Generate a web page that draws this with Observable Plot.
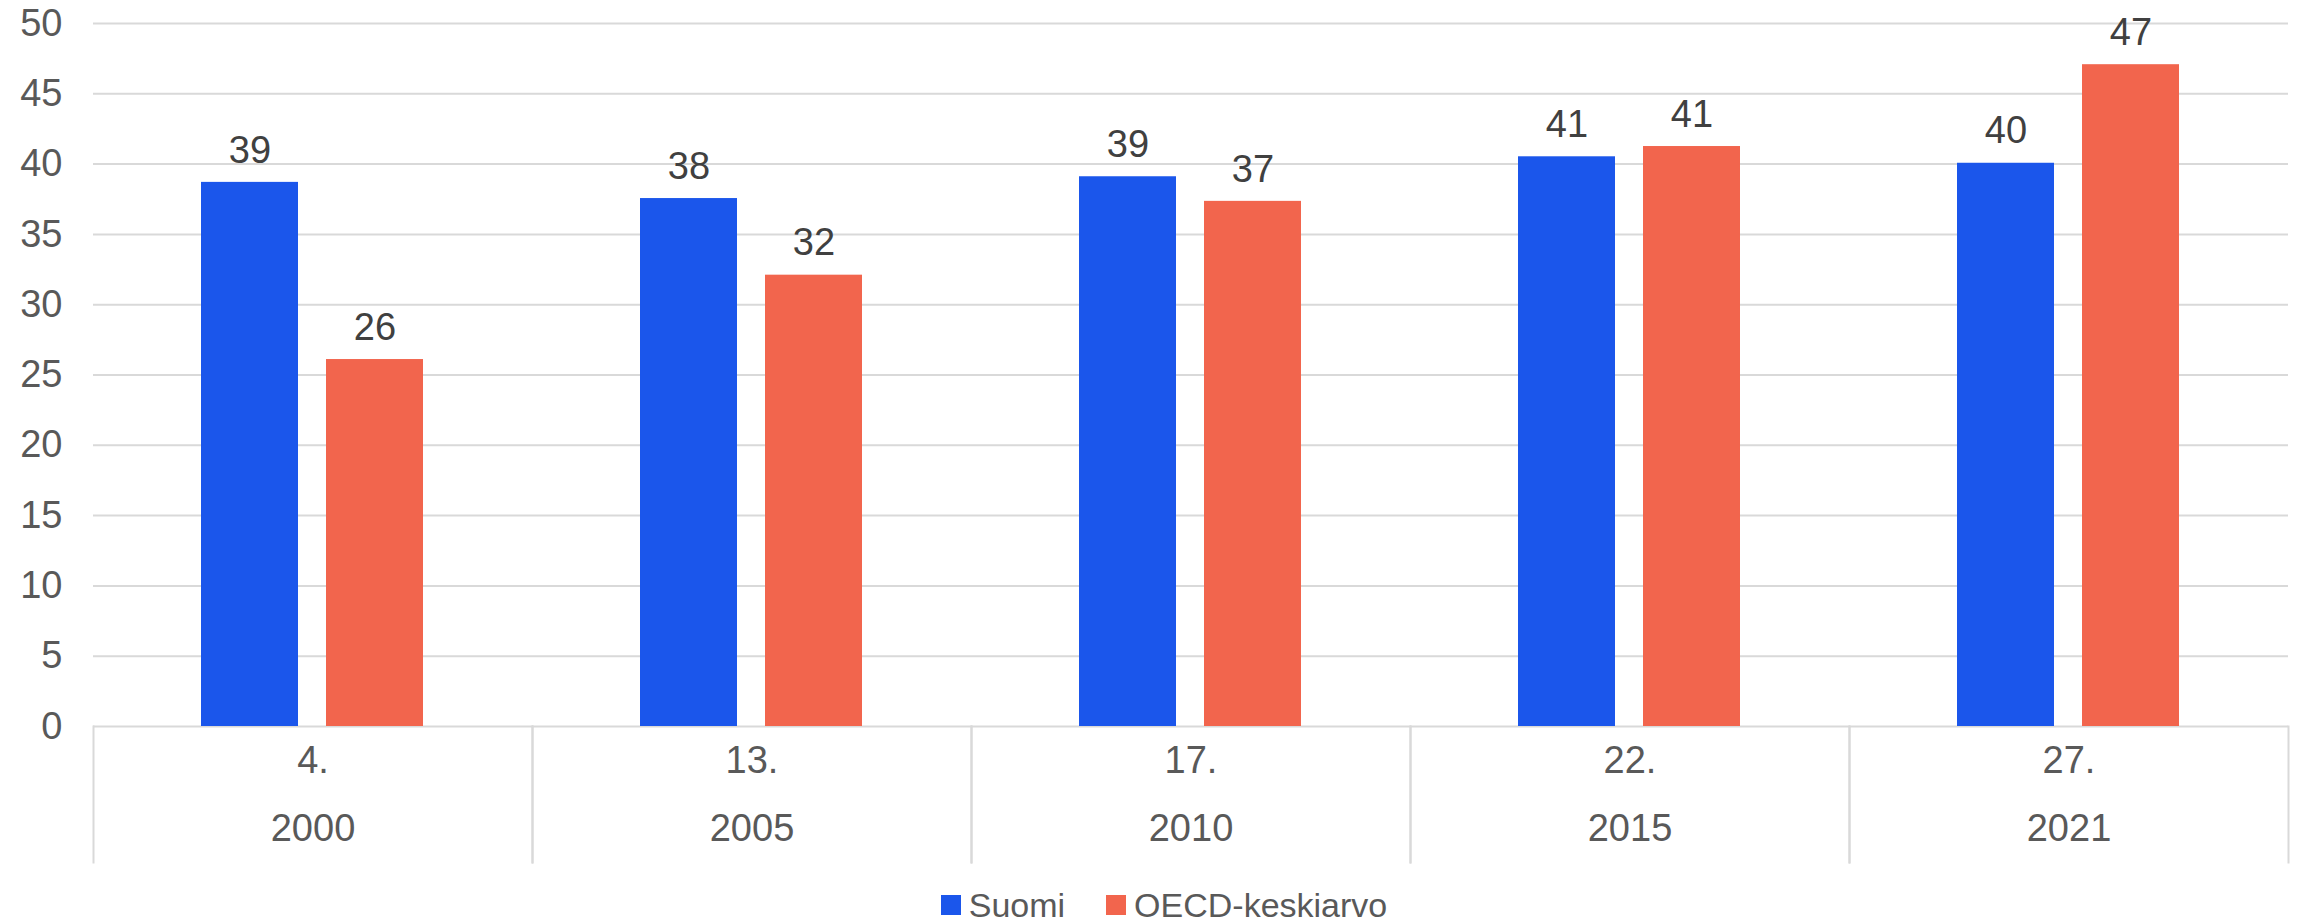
<!DOCTYPE html>
<html>
<head>
<meta charset="utf-8">
<script src="https://cdn.jsdelivr.net/npm/d3@7"></script>
<script src="https://cdn.jsdelivr.net/npm/@observablehq/plot@0.6"></script>
<style>
  html, body { margin: 0; padding: 0; background: #fff; }
  body { width: 2300px; height: 922px; overflow: hidden; font-family: "Liberation Sans", Arial, sans-serif; }
  #chart svg { display: block; }
  .legend { display: flex; justify-content: center; align-items: center; gap: 41px; padding-left: 28px;
            height: 34px; line-height: 34px; margin-top: 8px; font-size: 34px; color: #595959; }
  .legend .item { display: flex; align-items: center; gap: 8px; }
  .legend .sw { width: 20px; height: 20px; display: inline-block; }
</style>
</head>
<body>
<div id="chart"></div>
<div class="legend" id="legend"></div>
<script>
const years = ["2000", "2005", "2010", "2015", "2021"];
const ranks = ["4.", "13.", "17.", "22.", "27."];
const series = ["Suomi", "OECD-keskiarvo"];
const suomi = [38.7, 37.55, 39.1, 40.52, 40.06];
const oecd = [26.1, 32.1, 37.35, 41.25, 47.07];
const colors = ["#1b56eb", "#f2654d"];
const yTicks = [0, 5, 10, 15, 20, 25, 30, 35, 40, 45, 50];

const rows = [];
years.forEach((y, i) => {
  rows.push({year: y, series: series[0], value: suomi[i]});
  rows.push({year: y, series: series[1], value: oecd[i]});
});
const cats = years.map((y, i) => ({year: y, rank: ranks[i]}));

const W = 2300, H = 880, mT = 23, mB = 154, mL = 91, mR = 10;
const frameH = H - mT - mB;
const sepDepth = 136;

const plot = Plot.plot({
  width: W, height: H,
  marginTop: mT, marginBottom: mB, marginLeft: mL, marginRight: mR,
  style: {fontFamily: "'Liberation Sans', Arial, sans-serif", background: "#fff"},
  fx: {domain: years, padding: 0, axis: null},
  x: {domain: series, paddingInner: 0.222, paddingOuter: 0.857, axis: null},
  y: {domain: [0, 50], axis: null},
  color: {domain: series, range: colors},
  marks: [
    Plot.gridY(yTicks, {stroke: "#d9d9d9", strokeOpacity: 1, strokeWidth: 2}),
    Plot.frame({anchor: "left", stroke: "#d9d9d9", strokeOpacity: 1, strokeWidth: 2, insetTop: frameH, insetBottom: -sepDepth}),
    Plot.frame({anchor: "right", stroke: "#d9d9d9", strokeOpacity: 1, strokeWidth: 2, insetTop: frameH, insetBottom: -sepDepth}),
    Plot.axisY(yTicks, {label: null, tickSize: 0, tickPadding: 31, fontSize: 38, fill: "#595959"}),
    Plot.barY(rows, {fx: "year", x: "series", y: "value", fill: "series"}),
    Plot.text(rows, {fx: "year", x: "series", y: "value", text: d => String(Math.round(d.value)), dy: -32, fontSize: 38, fill: "#404040"}),
    Plot.text(cats, {fx: "year", text: "rank", frameAnchor: "bottom", dy: 46, fontSize: 38, fill: "#595959"}),
    Plot.text(cats, {fx: "year", text: "year", frameAnchor: "bottom", dy: 114, fontSize: 38, fill: "#595959"})
  ]
});
document.getElementById("chart").appendChild(plot);

const legend = document.getElementById("legend");
series.forEach((s, i) => {
  const item = document.createElement("span");
  item.className = "item";
  const sw = document.createElement("span");
  sw.className = "sw";
  sw.style.background = colors[i];
  const t = document.createElement("span");
  t.textContent = s;
  item.appendChild(sw);
  item.appendChild(t);
  legend.appendChild(item);
});
</script>
</body>
</html>
